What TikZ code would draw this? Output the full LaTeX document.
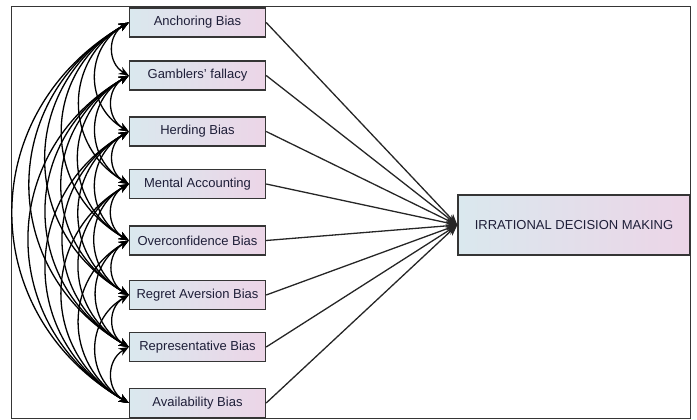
\documentclass[tikz,border=0pt]{standalone}
\usepackage{fontspec}
\setmainfont{Liberation Sans}
\usetikzlibrary{arrows.meta}
\definecolor{boxL}{HTML}{DAE8EE}
\definecolor{boxR}{HTML}{ECD5E7}
\definecolor{boxE}{HTML}{353535}
\definecolor{txt}{HTML}{1E1E38}
\definecolor{lineg}{HTML}{262626}
\tikzset{
  biasbox/.style={draw=boxE, line width=1.4pt, left color=boxL, right color=boxR,
    minimum width=136pt, minimum height=29pt, inner sep=0pt,
    font=\fontsize{13}{15}\selectfont, text=txt},
  outbox/.style={biasbox, minimum width=232pt, minimum height=60pt},
  corr/.style={black, line width=1.3pt, {Stealth[length=10pt,width=8pt]}-{Stealth[length=10pt,width=8pt]}},
  effect/.style={lineg, line width=1.3pt, -{Stealth[length=11pt,width=9pt]}},
}
\begin{document}
\begin{tikzpicture}[x=1pt,y=-1pt]
\useasboundingbox (0,0) rectangle (697,420);
\draw[boxE, line width=1pt] (11,7) rectangle (690.5,418);
\node[biasbox] (n1) at (197.5,22.5) {Anchoring Bias};
\node[biasbox] (n2) at (197.5,75.5) {Gamblers' fallacy};
\node[biasbox] (n3) at (197.5,131.5) {Herding Bias};
\node[biasbox] (n4) at (197.5,184) {Mental Accounting};
\node[biasbox] (n5) at (197.5,240.5) {Overconfidence Bias};
\node[biasbox] (n6) at (197.5,295) {Regret Aversion Bias};
\node[biasbox] (n7) at (197.5,347) {Representative Bias};
\node[biasbox] (n8) at (197.5,403) {Availability Bias};
\node[outbox] (idm) at (574,225) {IRRATIONAL DECISION MAKING};
\foreach \i in {1,...,8}{\draw[effect] (n\i.east) -- (idm.west);}
\foreach \i in {1,...,7}{
  \pgfmathtruncatemacro{\s}{\i+1}
  \foreach \j in {\s,...,8}{
    \draw[corr] (n\i.west) to[bend right=60, looseness=1.2] (n\j.west);
  }
}
\end{tikzpicture}
\end{document}
